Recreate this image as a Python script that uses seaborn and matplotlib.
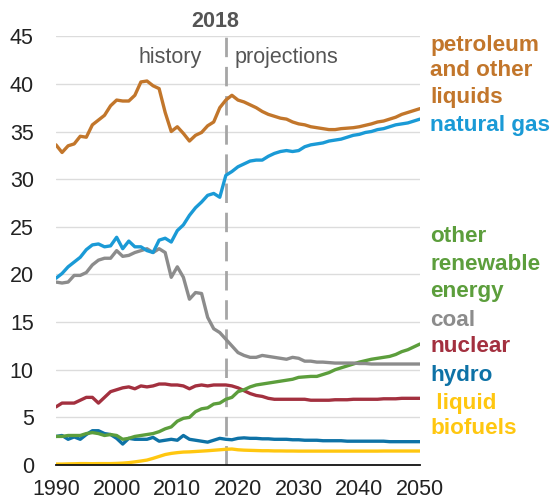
import numpy as np
import pandas as pd
import seaborn as sns
import matplotlib.pyplot as plt

years = list(range(1990, 2051))

petroleum = [33.6, 32.8, 33.5, 33.7, 34.5, 34.4, 35.7, 36.2, 36.7, 37.7,
             38.3, 38.2, 38.2, 38.8, 40.2, 40.3, 39.8, 39.5, 37.0, 35.0,
             35.5, 34.8, 34.0, 34.6, 34.9, 35.6, 36.0, 37.5, 38.3, 38.8,
             38.3, 38.1, 37.8, 37.5, 37.1, 36.8, 36.6, 36.4, 36.3, 36.0,
             35.8, 35.7, 35.5, 35.4, 35.3, 35.2, 35.2, 35.3, 35.35, 35.4,
             35.5, 35.65, 35.8, 36.0, 36.1, 36.3, 36.5, 36.8, 37.0, 37.2, 37.4]
natural_gas = [19.6, 20.1, 20.8, 21.3, 21.8, 22.6, 23.1, 23.2, 22.9, 23.0,
               23.9, 22.7, 23.5, 22.9, 22.9, 22.5, 22.3, 23.6, 23.8, 23.4,
               24.6, 25.2, 26.2, 27.0, 27.6, 28.3, 28.5, 28.1, 30.4, 30.8,
               31.3, 31.6, 31.9, 32.0, 32.0, 32.4, 32.7, 32.9, 33.0, 32.9,
               33.0, 33.4, 33.6, 33.7, 33.8, 34.0, 34.1, 34.2, 34.4, 34.6,
               34.7, 34.9, 35.0, 35.2, 35.3, 35.5, 35.7, 35.8, 35.9, 36.1, 36.3]
coal = [19.2, 19.1, 19.2, 19.9, 19.9, 20.2, 21.0, 21.5, 21.7, 21.7,
        22.5, 21.9, 22.0, 22.3, 22.5, 22.7, 22.3, 22.7, 22.3, 19.7,
        20.8, 19.7, 17.4, 18.1, 18.0, 15.5, 14.3, 13.9, 13.2, 12.5,
        11.8, 11.5, 11.3, 11.3, 11.5, 11.4, 11.3, 11.2, 11.1, 11.3,
        11.2, 10.9, 10.9, 10.8, 10.8, 10.75, 10.7, 10.7, 10.7, 10.7,
        10.65, 10.65, 10.6, 10.6, 10.6, 10.6, 10.6, 10.6, 10.6, 10.6, 10.6]
renewables = [3.0, 3.0, 3.1, 3.1, 3.1, 3.3, 3.4, 3.3, 3.1, 3.2,
              3.1, 2.7, 2.8, 3.0, 3.1, 3.2, 3.3, 3.5, 3.8, 4.0,
              4.6, 4.9, 5.0, 5.6, 5.9, 6.0, 6.4, 6.5, 6.9, 7.1,
              7.7, 7.9, 8.2, 8.4, 8.5, 8.6, 8.7, 8.8, 8.9, 9.0,
              9.2, 9.25, 9.3, 9.3, 9.5, 9.7, 10.0, 10.2, 10.4, 10.6,
              10.8, 10.95, 11.1, 11.2, 11.3, 11.4, 11.6, 11.9, 12.1, 12.4, 12.7]
nuclear = [6.1, 6.5, 6.5, 6.5, 6.8, 7.1, 7.1, 6.5, 7.1, 7.7,
           7.9, 8.1, 8.2, 8.0, 8.3, 8.2, 8.3, 8.5, 8.5, 8.4,
           8.4, 8.3, 8.0, 8.3, 8.4, 8.3, 8.4, 8.4, 8.4, 8.3,
           8.1, 7.8, 7.5, 7.3, 7.2, 7.0, 6.9, 6.9, 6.9, 6.9,
           6.9, 6.9, 6.8, 6.8, 6.8, 6.8, 6.85, 6.85, 6.85, 6.9,
           6.9, 6.9, 6.9, 6.9, 6.95, 6.95, 6.95, 7.0, 7.0, 7.0, 7.0]
hydro = [3.0, 3.1, 2.7, 2.95, 2.7, 3.2, 3.6, 3.6, 3.3, 3.2,
         2.8, 2.2, 2.8, 2.7, 2.7, 2.7, 2.9, 2.5, 2.6, 2.7,
         2.6, 3.1, 2.7, 2.6, 2.5, 2.4, 2.6, 2.8, 2.7, 2.65,
         2.8, 2.85, 2.8, 2.8, 2.75, 2.75, 2.7, 2.7, 2.7, 2.65,
         2.65, 2.6, 2.6, 2.6, 2.55, 2.55, 2.55, 2.55, 2.5, 2.5,
         2.5, 2.5, 2.5, 2.5, 2.5, 2.45, 2.45, 2.45, 2.45, 2.45, 2.45]
biofuels = [0.1, 0.1, 0.12, 0.13, 0.15, 0.15, 0.14, 0.15, 0.15, 0.15,
            0.17, 0.2, 0.25, 0.33, 0.42, 0.52, 0.7, 0.9, 1.1, 1.22,
            1.3, 1.36, 1.38, 1.42, 1.46, 1.5, 1.55, 1.6, 1.65, 1.68,
            1.6, 1.56, 1.54, 1.52, 1.5, 1.5, 1.48, 1.48, 1.47, 1.47,
            1.46, 1.46, 1.46, 1.46, 1.46, 1.46, 1.46, 1.46, 1.46, 1.46,
            1.46, 1.46, 1.46, 1.46, 1.47, 1.47, 1.47, 1.47, 1.47, 1.47, 1.47]

series = {
    'liquid biofuels': biofuels,
    'hydro': hydro,
    'nuclear': nuclear,
    'other renewable energy': renewables,
    'coal': coal,
    'natural gas': natural_gas,
    'petroleum and other liquids': petroleum,
}
colors = {
    'petroleum and other liquids': '#C2762B',
    'natural gas': '#1A9AD6',
    'other renewable energy': '#5C9E3C',
    'coal': '#8C8C8C',
    'nuclear': '#A3303F',
    'hydro': '#0E72A6',
    'liquid biofuels': '#FFC710',
}

df = pd.DataFrame([{'year': y, 'fuel': name, 'value': v}
                   for name, vals in series.items() for y, v in zip(years, vals)])

sns.set_style('white')
plt.rcParams['font.family'] = ['Liberation Sans', 'DejaVu Sans']

fig = plt.figure(figsize=(5.57, 5.03), dpi=100)
ax = fig.add_axes([0.1005, 0.0755, 0.6535, 0.8525])

sns.lineplot(data=df, x='year', y='value', hue='fuel', palette=colors,
             linewidth=2.4, legend=False, ax=ax)

ax.set_xlim(1990, 2050)
ax.set_ylim(0, 45)
ax.set_yticks(range(0, 46, 5))
ax.set_xticks(range(1990, 2051, 10))
for y in range(5, 46, 5):
    ax.axhline(y, color='#DCDCDC', lw=1, zorder=0)
ax.axvline(2018, color='#A6A6A6', lw=2, dashes=(7, 3.5), zorder=1)

for s in ['left', 'right', 'top']:
    ax.spines[s].set_visible(False)
ax.spines['bottom'].set_color('#111111')
ax.spines['bottom'].set_linewidth(1.3)
ax.tick_params(axis='y', length=0, labelsize=15.5, labelcolor='#222222', pad=16)
ax.tick_params(axis='x', length=5, width=1, color='#777777', direction='out',
               labelsize=15.5, labelcolor='#222222', pad=5)
ax.set_xlabel('')
ax.set_ylabel('')

ax.text(2016.2, 46.5, '2018', ha='center', va='center', fontsize=15.5,
        fontweight='bold', color='#555555', clip_on=False)
ax.text(2014.0, 42.8, 'history', ha='right', va='center', fontsize=15.5, color='#555555')
ax.text(2019.5, 42.8, 'projections', ha='left', va='center', fontsize=15.5, color='#555555')

labels = [
    ('petroleum', 45, 'petroleum and other liquids'),
    ('and other', 71, 'petroleum and other liquids'),
    ('liquids', 98, 'petroleum and other liquids'),
    ('natural gas', 126, 'natural gas'),
    ('other', 236, 'other renewable energy'),
    ('renewable', 264, 'other renewable energy'),
    ('energy', 292, 'other renewable energy'),
    ('coal', 320, 'coal'),
    ('nuclear', 346, 'nuclear'),
    ('hydro', 375, 'hydro'),
    (' liquid', 403, 'liquid biofuels'),
    ('biofuels', 428, 'liquid biofuels'),
]
for txt, ypix, key in labels:
    fig.text(430 / 557, 1 - ypix / 503, txt, ha='left', va='center',
             fontsize=16.2, fontweight='bold', color=colors[key])

fig.savefig('out.png', dpi=100)
